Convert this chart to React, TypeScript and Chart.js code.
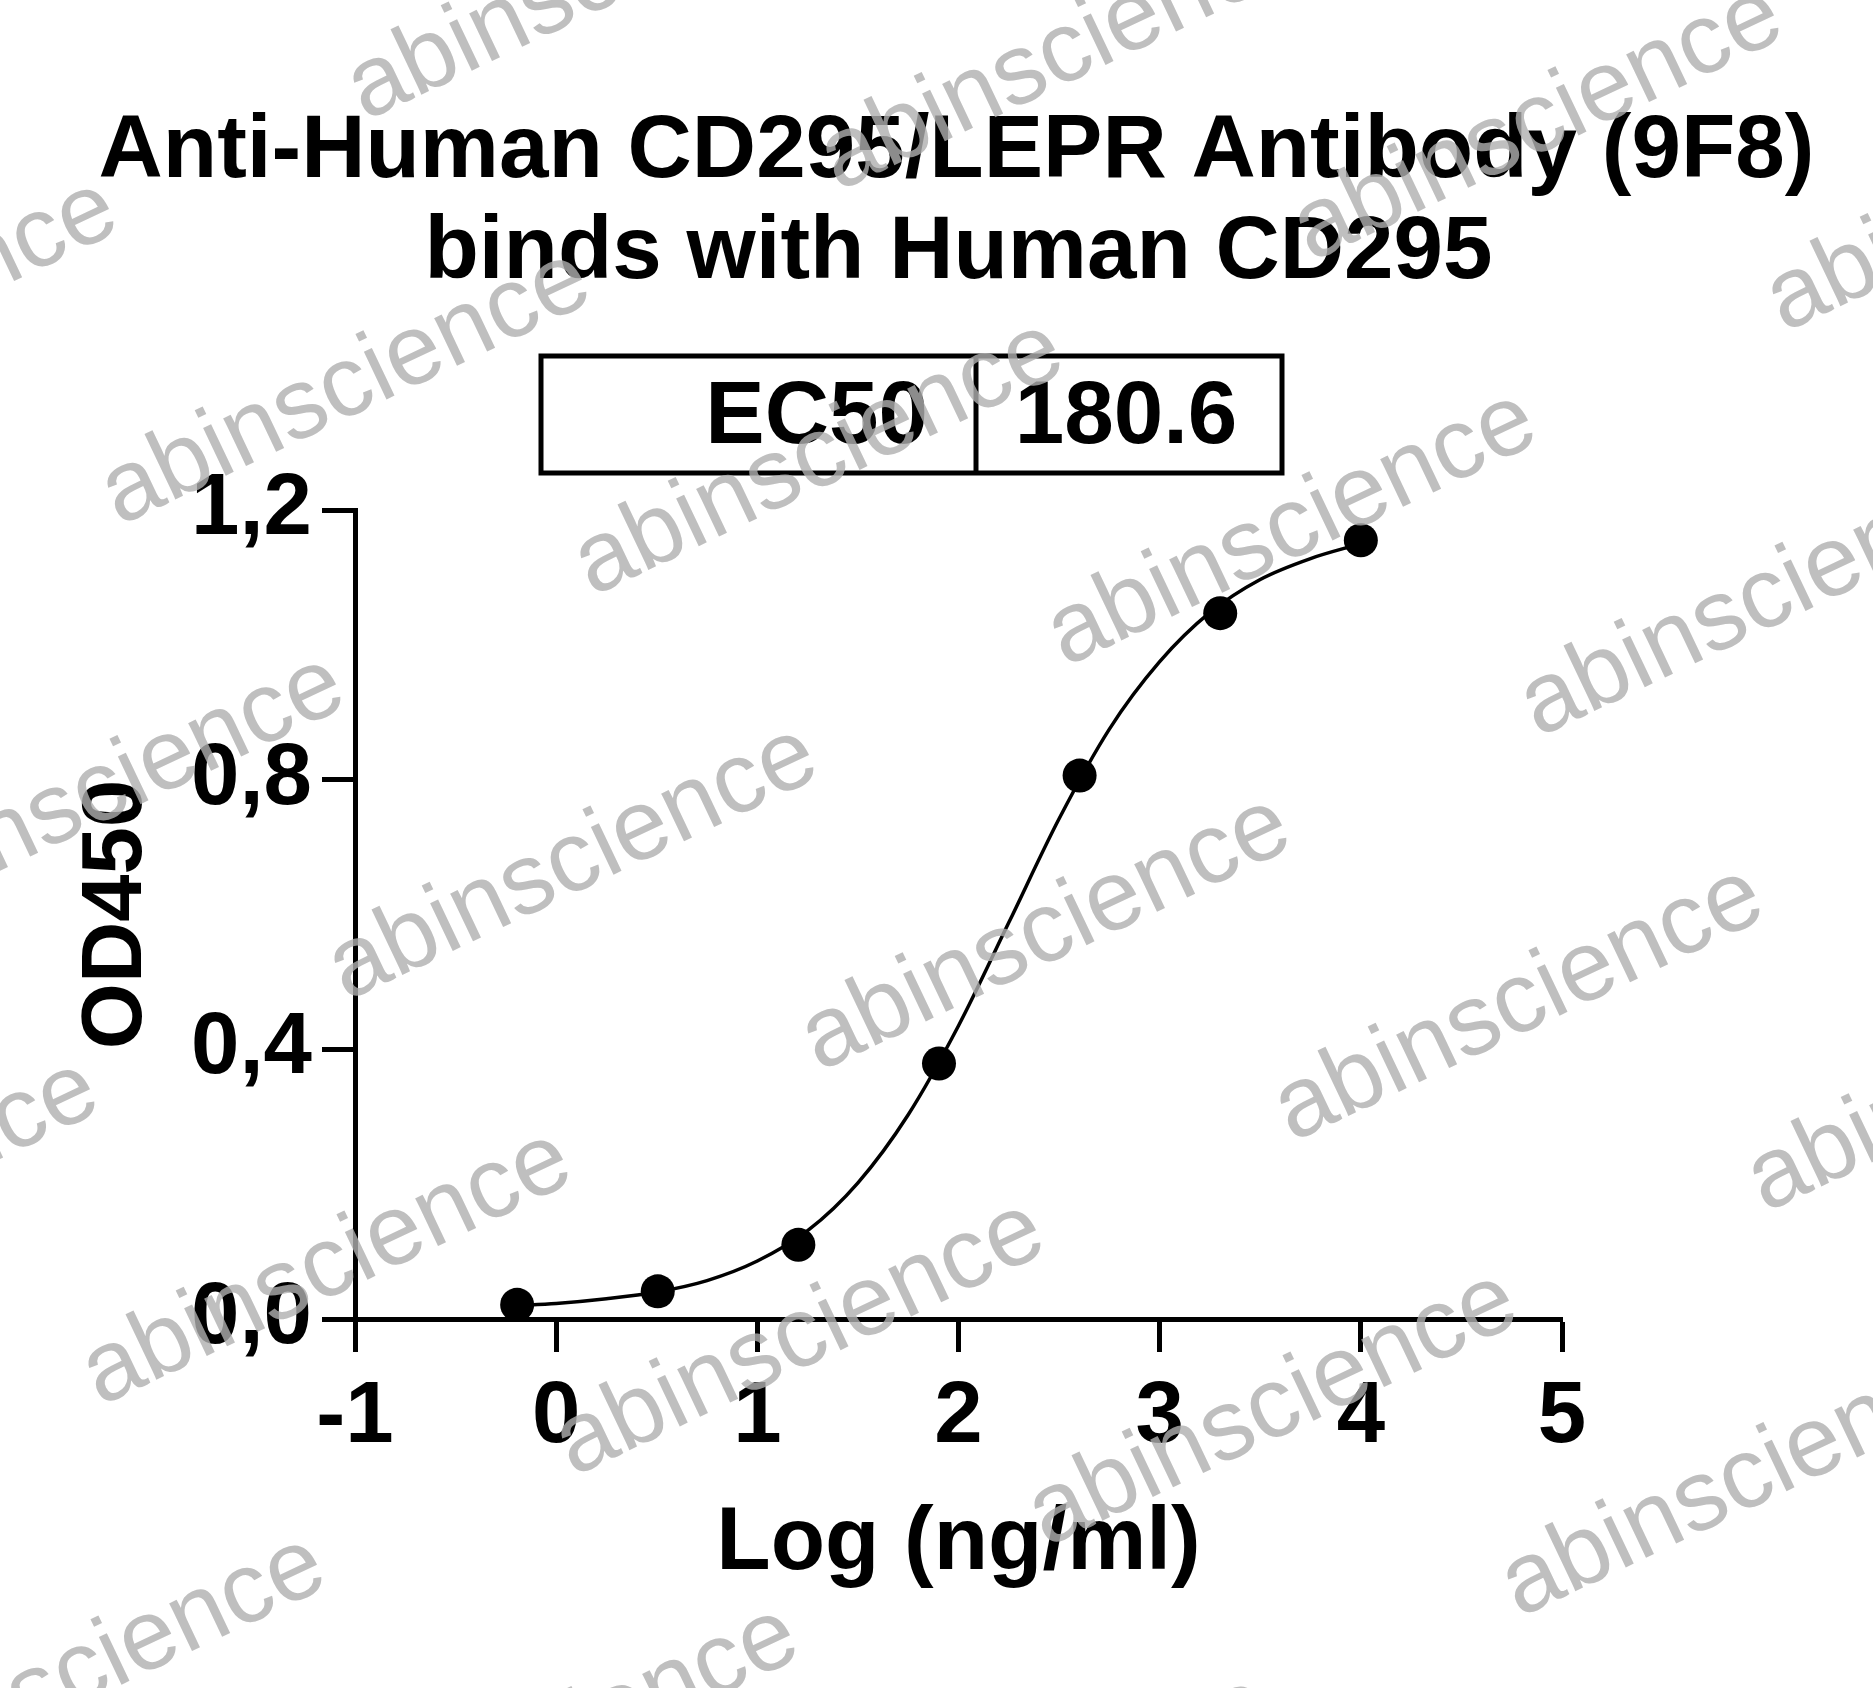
import React, { useEffect, useRef } from "react";
import { Chart, registerables } from "chart.js";

Chart.register(...registerables);

const titleLines = ["Anti-Human CD295/LEPR Antibody (9F8)", "binds with Human CD295"];
const ec50Label = "EC50";
const ec50Value = "180.6";
const xAxisTitle = "Log (ng/ml)";
const yAxisTitle = "OD450";
const watermarkText = "abinscience";

// measured points: log10 of concentration (ng/ml) and OD450
const logConc = [-0.194, 0.505, 1.204, 1.903, 2.602, 3.301, 4.0];
const od450 = [0.021, 0.041, 0.11, 0.379, 0.806, 1.047, 1.155];

// fitted curve
const curveX = [-0.2, 0, 0.25, 0.5, 0.75, 1.0, 1.25, 1.5, 1.75, 2.0, 2.25, 2.5, 2.75, 3.0, 3.25, 3.5, 3.75, 4.0];
const curveY = [0.02, 0.023, 0.03, 0.04, 0.057, 0.086, 0.131, 0.202, 0.303, 0.435, 0.588, 0.742, 0.875, 0.975, 1.048, 1.097, 1.128, 1.15];

const xTicks = [-1, 0, 1, 2, 3, 4, 5];
const yTicks = [0, 0.4, 0.8, 1.2];

const W = 1873;
const H = 1688;
const FONT = "'Liberation Sans', Arial, sans-serif";

const overlayPlugin = {
  id: "overlay",
  afterDraw(chart: any) {
    const ctx = chart.ctx as CanvasRenderingContext2D;
    const area = chart.chartArea;
    const cx = (area.left + area.right) / 2;
    ctx.save();
    // title
    ctx.fillStyle = "#000";
    ctx.textAlign = "center";
    ctx.textBaseline = "alphabetic";
    ctx.font = `bold 89px ${FONT}`;
    ctx.fillText(titleLines[0], cx - 2, 177);
    ctx.fillText(titleLines[1], cx, 278);

    // EC50 box
    const bx1 = 541, bx2 = 1282, by1 = 356, by2 = 473, div = 976;
    ctx.lineWidth = 5;
    ctx.strokeStyle = "#000";
    ctx.strokeRect(bx1, by1, bx2 - bx1, by2 - by1);
    ctx.beginPath();
    ctx.moveTo(div, by1);
    ctx.lineTo(div, by2);
    ctx.stroke();
    ctx.font = `bold 89px ${FONT}`;
    ctx.textAlign = "right";
    ctx.fillText(ec50Label, 928, 443);
    ctx.textAlign = "center";
    ctx.fillText(ec50Value, (div + bx2) / 2 - 3, 443);

    // watermark
    ctx.font = `100px ${FONT}`;
    ctx.fillStyle = "rgba(175,175,175,0.8)";
    ctx.textAlign = "center";
    ctx.textBaseline = "middle";
    const base = [346, 388];
    const u = [473, 70.5];
    const v = [227, 475.4];
    for (let i = -4; i <= 5; i++) {
      for (let j = -3; j <= 4; j++) {
        const px = base[0] + i * u[0] + j * v[0];
        const py = base[1] + i * u[1] + j * v[1];
        if (px < -400 || px > W + 400 || py < -300 || py > H + 300) continue;
        ctx.save();
        ctx.translate(px, py);
        ctx.rotate((-25.4 * Math.PI) / 180);
        ctx.fillText(watermarkText, 0, 0);
        ctx.restore();
      }
    }
    ctx.restore();
  },
};

export default function App() {
  const ref = useRef<HTMLCanvasElement | null>(null);

  useEffect(() => {
    if (!ref.current) return;
    const chart = new Chart(ref.current, {
      type: "scatter",
      data: {
        datasets: [
          {
            label: "points",
            data: logConc.map((x, i) => ({ x, y: od450[i] })),
            showLine: false,
            pointRadius: 17,
            pointHoverRadius: 17,
            pointBackgroundColor: "#000",
            pointBorderColor: "#000",
            pointBorderWidth: 0,
            clip: false,
          } as any,
          {
            label: "fit",
            data: curveX.map((x, i) => ({ x, y: curveY[i] })),
            showLine: true,
            pointRadius: 0,
            borderColor: "#000",
            borderWidth: 3.5,
            cubicInterpolationMode: "monotone",
            fill: false,
            clip: false,
          } as any,
        ],
      },
      options: {
        animation: false,
        responsive: false,
        devicePixelRatio: 1,
        layout: { padding: { left: 0, top: 510, right: 311, bottom: 0 } },
        plugins: {
          legend: { display: false },
          tooltip: { enabled: false },
          title: { display: false },
        },
        scales: {
          x: {
            type: "linear",
            min: -1,
            max: 5,
            afterFit: (s: any) => {
              s.height = H - 1319;
            },
            afterBuildTicks: (s: any) => {
              s.ticks = xTicks.map((value) => ({ value }));
            },
            border: { display: true, color: "#000", width: 5 },
            grid: {
              display: true,
              drawOnChartArea: false,
              drawTicks: true,
              tickLength: 33,
              tickWidth: 5,
              tickColor: "#000",
            },
            ticks: {
              color: "#000",
              padding: 14,
              maxRotation: 0,
              font: { family: FONT, size: 87, weight: "bold" },
              callback: (val: any) => String(val),
            },
            title: {
              display: true,
              text: xAxisTitle,
              color: "#000",
              padding: { top: 0, bottom: 90 },
              font: { family: FONT, size: 89, weight: "bold" },
            },
          },
          y: {
            type: "linear",
            min: 0,
            max: 1.2,
            afterFit: (s: any) => {
              s.width = 355;
            },
            afterBuildTicks: (s: any) => {
              s.ticks = yTicks.map((value) => ({ value }));
            },
            border: { display: true, color: "#000", width: 5 },
            grid: {
              display: true,
              drawOnChartArea: false,
              drawTicks: true,
              tickLength: 33,
              tickWidth: 5,
              tickColor: "#000",
            },
            ticks: {
              color: "#000",
              padding: 10,
              font: { family: FONT, size: 87, weight: "bold" },
              callback: (val: any) => Number(val).toFixed(1).replace(".", ","),
            },
            title: {
              display: true,
              text: yAxisTitle,
              color: "#000",
              padding: { top: 67, bottom: 0 },
              font: { family: FONT, size: 85, weight: "bold" },
            },
          },
        },
      },
      plugins: [overlayPlugin],
    });
    return () => chart.destroy();
  }, []);

  return (
    <div style={{ position: "fixed", left: 0, top: 0, width: W, height: H, background: "#fff" }}>
      <canvas ref={ref} width={W} height={H} style={{ width: W, height: H, display: "block" }} />
    </div>
  );
}
